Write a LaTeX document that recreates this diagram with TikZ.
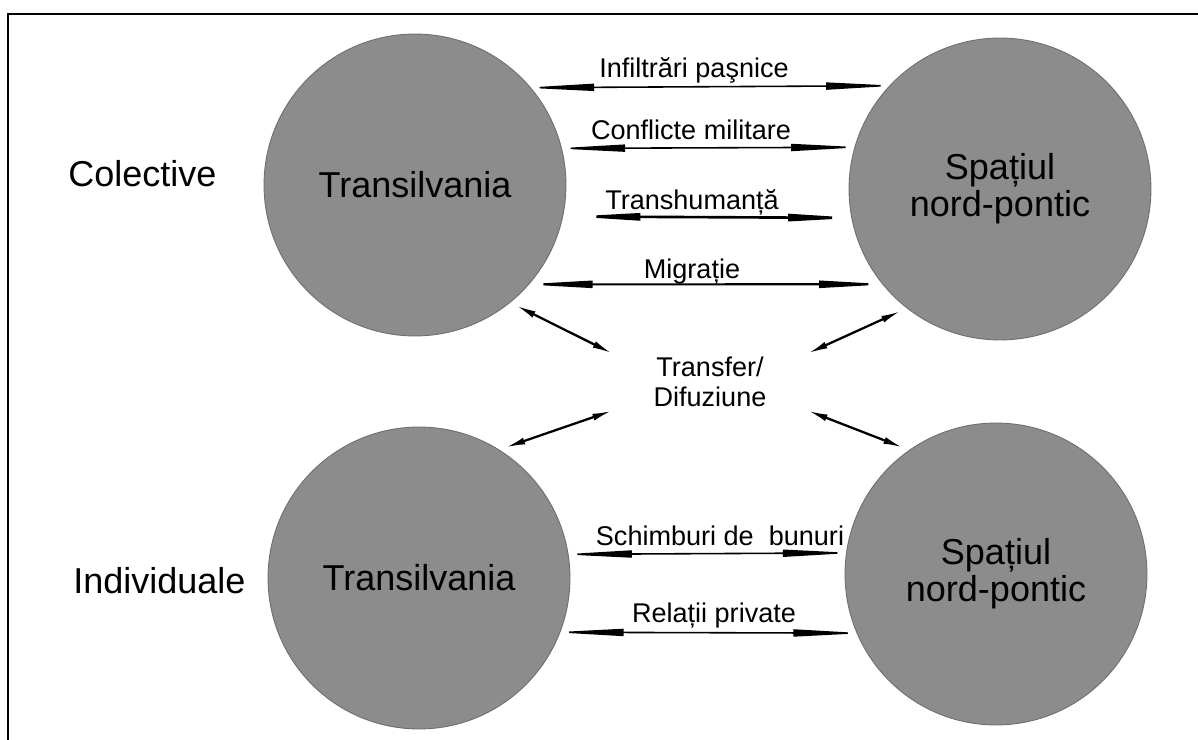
\documentclass[tikz,border=0pt]{standalone}
\usepackage{fontspec}
\setmainfont{Liberation Sans}
\usetikzlibrary{arrows.meta}
\definecolor{disc}{HTML}{8C8C8C}
\definecolor{discrim}{HTML}{6E6E6E}

\begin{document}
\begin{tikzpicture}[x=0.02cm, y=-0.02cm,
		region/.style={circle, fill=disc, draw=discrim, line width=0.5pt, minimum size=6.04cm, inner sep=0pt, align=center, font=\fontsize{20.5}{21}\selectfont},
		side/.style={anchor=west, inner sep=0pt, font=\fontsize{20.5}{21}\selectfont},
		lbl/.style={anchor=base, inner sep=0pt, font=\fontsize{15.4}{17}\selectfont},
		flow/.style={{Triangle[length=40pt,width=4pt]}-{Triangle[length=40pt,width=4pt]}, line width=0.9pt, shorten <=-4pt, shorten >=-4pt},
		link/.style={{Latex[length=11pt,width=4pt]}-{Latex[length=11pt,width=4pt]}, line width=1.3pt, shorten <=4pt}]
		\useasboundingbox (0,0) rectangle (1198,740);
		% Frame
		\draw[line width=0.9pt] (8,740) -- (8,14) -- (1198,14);

		% Collective contacts
		\node[side] (col) at (68,174) {Colective};
		\node[region] (tl) at (415,185) {Transilvania};
		\node[region] (tr) at (1000,189) {Spațiul\\nord-pontic};
		\draw[flow] (tl.40.5) -- (tr.137.5);
		\draw[flow] (tl.14.2) -- (tr.164.25);
		\draw[flow, line width=1.5pt, shorten <=4pt] (tl.-12.6) -- (tr.191.1);
		\draw[flow, line width=1.2pt] (tl.-41.5) -- (tr.219.5);
		\node[lbl] (peace) at (694,78) {Infiltrări paşnice};
		\node[lbl] (war) at (691,140) {Conflicte militare};
		\node[lbl] (herd) at (692,210) {Transhumanță};
		\node[lbl] (migr) at (692,278) {Migrație};

		% Transfer in the middle
		\node[minimum width=3.92cm, minimum height=1.14cm, inner sep=0pt, align=center, font=\fontsize{15.4}{17}\selectfont] (hub) at (710,382) {Transfer/\\Difuziune};

		% Individual contacts
		\node[side] (ind) at (73,581) {Individuale};
		\node[region] (bl) at (419,578) {Transilvania};
		\node[region] (br) at (996,574) {Spațiul\\nord-pontic};
		\draw[flow] (bl.9.5) -- (br.172);
		\draw[flow] (bl.-21.35) -- (br.203);
		\node[lbl] (goods) at (720,545) {Schimburi de\ \ bunuri};
		\node[lbl] (priv) at (714,622) {Relații private};

		\draw[link] (tl.-51) -- (hub.north west);
		\draw[link] (tr.232.5) -- (hub.north east);
		\draw[link] (bl.58.3) -- (hub.south west);
		\draw[link] (br.125.4) -- (hub.south east);
	\end{tikzpicture}
\end{document}
